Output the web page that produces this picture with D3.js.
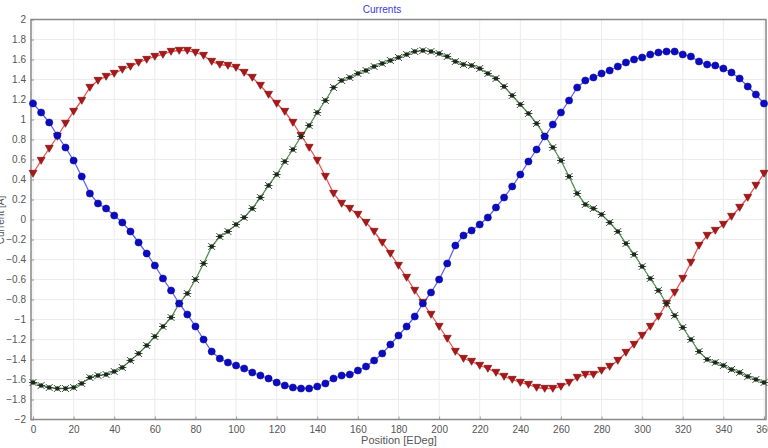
<!DOCTYPE html>
<html><head><meta charset="utf-8">
<script src="https://cdn.jsdelivr.net/npm/d3@7"></script>
<style>
html,body{margin:0;padding:0;background:#fff;}
svg{display:block;font-family:"Liberation Sans",Arial,sans-serif;}
</style></head>
<body>
<svg id="c" width="768" height="448"></svg>
<script>
const positions = d3.range(0, 361, 4);
const xTicks = d3.range(0, 361, 20);
const yTicks = [-2,-1.8,-1.6,-1.4,-1.2,-1,-0.8,-0.6,-0.4,-0.2,0,0.2,0.4,0.6,0.8,1,1.2,1.4,1.6,1.8,2];

const phaseA = [1.16,1.07,0.97,0.84,0.72,0.59,0.43,0.26,0.16,0.11,0.04,-0.03,-0.12,-0.23,-0.34,-0.46,-0.59,-0.71,-0.84,-0.95,
-1.07,-1.2,-1.32,-1.39,-1.43,-1.46,-1.49,-1.53,-1.56,-1.59,-1.63,-1.66,-1.68,-1.69,-1.69,-1.67,-1.64,-1.59,-1.56,-1.55,
-1.51,-1.47,-1.41,-1.34,-1.25,-1.16,-1.07,-0.97,-0.84,-0.73,-0.6,-0.44,-0.26,-0.16,-0.11,-0.05,0.02,0.12,0.22,0.33,
0.45,0.58,0.7,0.83,0.95,1.07,1.19,1.32,1.39,1.42,1.46,1.49,1.53,1.57,1.6,1.62,1.65,1.67,1.68,1.68,
1.65,1.63,1.58,1.55,1.54,1.51,1.47,1.41,1.33,1.25,1.16];

const phaseB = [0.46,0.59,0.71,0.83,0.96,1.08,1.19,1.32,1.39,1.43,1.46,1.5,1.53,1.57,1.6,1.63,1.65,1.68,1.69,1.69,
1.67,1.64,1.58,1.55,1.54,1.52,1.47,1.42,1.34,1.25,1.16,1.08,0.97,0.84,0.72,0.59,0.43,0.26,0.16,0.11,
0.05,-0.03,-0.12,-0.23,-0.34,-0.46,-0.58,-0.71,-0.83,-0.95,-1.07,-1.19,-1.32,-1.39,-1.42,-1.46,-1.49,-1.53,-1.57,-1.6,
-1.63,-1.65,-1.68,-1.69,-1.69,-1.67,-1.63,-1.58,-1.55,-1.55,-1.51,-1.47,-1.41,-1.33,-1.25,-1.16,-1.07,-0.97,-0.84,-0.73,
-0.59,-0.43,-0.26,-0.16,-0.11,-0.05,0.03,0.12,0.22,0.34,0.46];

const phaseC = [-1.63,-1.66,-1.68,-1.69,-1.69,-1.68,-1.64,-1.58,-1.56,-1.55,-1.52,-1.48,-1.41,-1.34,-1.26,-1.17,-1.07,-0.98,-0.84,-0.74,
-0.6,-0.44,-0.27,-0.17,-0.12,-0.05,0.02,0.11,0.22,0.34,0.45,0.58,0.7,0.83,0.94,1.07,1.19,1.32,1.39,1.42,
1.46,1.49,1.53,1.56,1.59,1.62,1.65,1.68,1.69,1.68,1.66,1.63,1.58,1.55,1.54,1.51,1.46,1.41,1.33,1.24,
1.15,1.06,0.96,0.84,0.72,0.59,0.43,0.26,0.15,0.11,0.05,-0.03,-0.12,-0.24,-0.35,-0.47,-0.59,-0.71,-0.84,-0.96,
-1.08,-1.2,-1.32,-1.4,-1.43,-1.46,-1.5,-1.53,-1.57,-1.6,-1.63];

const svg = d3.select("#c");
const L = 31, R = 766, T = 19.5, B = 419.5;
const x = d3.scaleLinear().domain([0, 360]).range([33, 764]);
const y = d3.scaleLinear().domain([-2, 2]).range([B, T]);

// grid
const g = svg.append("g");
g.selectAll("line.vg").data(xTicks).enter().append("line")
  .attr("x1", d => x(d)).attr("x2", d => x(d)).attr("y1", T).attr("y2", B)
  .attr("stroke", "#ececec").attr("stroke-width", 1);
g.selectAll("line.hg").data(yTicks).enter().append("line")
  .attr("x1", L).attr("x2", R).attr("y1", d => y(d)).attr("y2", d => y(d))
  .attr("stroke", "#ececec").attr("stroke-width", 1);

// axes
const xAxis = svg.append("g").attr("transform", `translate(0,${B})`)
  .call(d3.axisBottom(x).tickValues(xTicks).tickSizeInner(-3).tickSizeOuter(0).tickPadding(6));
const yAxis = svg.append("g").attr("transform", `translate(${L},0)`)
  .call(d3.axisLeft(y).tickValues(yTicks).tickSizeInner(-3).tickSizeOuter(0).tickPadding(5).tickFormat(d3.format("")));
[xAxis, yAxis].forEach(a => {
  a.select(".domain").remove();
  a.selectAll(".tick line").attr("stroke", "#999");
  a.selectAll(".tick text").attr("fill", "#555").style("font-size", "10px").style("font-family", "'Liberation Sans',Arial,sans-serif");
});

// frame
svg.append("rect").attr("x", L).attr("y", T).attr("width", R - L).attr("height", B - T)
  .attr("fill", "none").attr("stroke", "#888").attr("stroke-width", 1.5);

// titles
svg.append("text").attr("x", 382).attr("y", 13).attr("text-anchor", "middle")
  .attr("fill", "#3a3ae0").style("font-size", "10px").text("Currents");
svg.append("text").attr("x", 399).attr("y", 444).attr("text-anchor", "middle")
  .attr("fill", "#555").style("font-size", "11px").text("Position [EDeg]");
svg.append("text").attr("transform", "translate(4,220) rotate(-90)").attr("text-anchor", "middle")
  .attr("fill", "#555").style("font-size", "10px").text("Current [A]");

const line = d3.line().x((d, i) => x(positions[i])).y(d => y(d));

// red series
svg.append("path").datum(phaseB).attr("d", line).attr("fill", "none").attr("stroke", "#f05050").attr("stroke-width", 1.3);
// green series
svg.append("path").datum(phaseC).attr("d", line).attr("fill", "none").attr("stroke", "#4f8f4f").attr("stroke-width", 1.3);
// blue series
svg.append("path").datum(phaseA).attr("d", line).attr("fill", "none").attr("stroke", "#6060ff").attr("stroke-width", 1.3);

// red markers: down triangles
svg.append("g").selectAll("path").data(phaseB).enter().append("path")
  .attr("transform", (d, i) => `translate(${x(positions[i])},${y(d)})`)
  .attr("d", "M-4,-3.2L4,-3.2L0,3.8Z")
  .attr("fill", "#a81818").attr("stroke", "#7a0a0a").attr("stroke-width", 0.6);

// green markers: asterisks
const gm = svg.append("g").selectAll("g").data(phaseC).enter().append("g")
  .attr("transform", (d, i) => `translate(${x(positions[i])},${y(d)})`);
gm.append("path").attr("d", "M-3.5,-3.5L3.5,3.5M-3.5,3.5L3.5,-3.5M-4,0L4,0")
  .attr("stroke", "#3d5a3d").attr("stroke-width", 1);
gm.append("circle").attr("r", 2.3).attr("fill", "#1e261e");

// blue markers: circles
svg.append("g").selectAll("circle").data(phaseA).enter().append("circle")
  .attr("cx", (d, i) => x(positions[i])).attr("cy", d => y(d)).attr("r", 3.6)
  .attr("fill", "#0b0bc0").attr("stroke", "#06068a").attr("stroke-width", 0.5);
</script>
</body></html>
